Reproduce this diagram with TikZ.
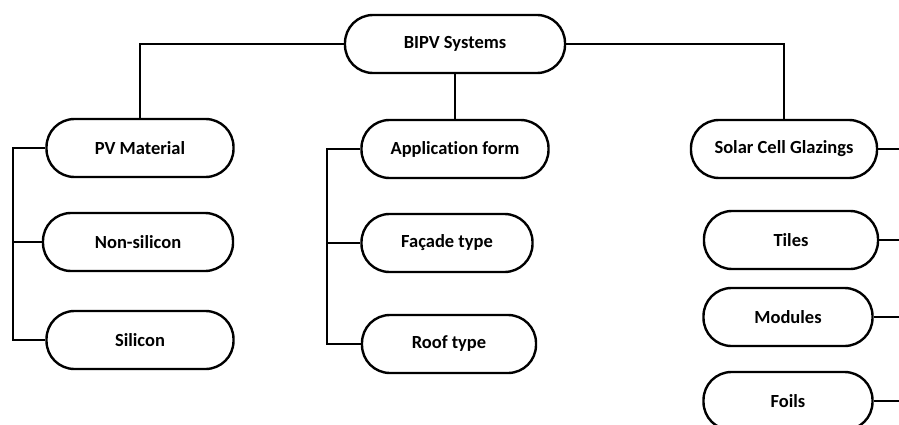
\documentclass[tikz,border=0pt]{standalone}
\usepackage{fontspec}
\setmainfont{Carlito}[Ligatures=NoCommon]
\begin{document}
\begin{tikzpicture}[x=1pt, y=-1pt, line width=1.4pt,
    block/.style={draw, line width=2.4pt, rounded corners=28pt, minimum height=58pt,
        inner sep=0pt, font=\fontsize{18.5}{22}\selectfont\bfseries}]
    \useasboundingbox (0,0) rectangle (899,425);
    % top level
    \node[block, minimum width=220pt] (bipv) at (455,44) {BIPV Systems};
    % second level
    \node[block, minimum width=187pt] (pv) at (140,148) {PV Material};
    \node[block, minimum width=187pt] (app) at (455,149) {Application form};
    \node[block, minimum width=186pt] (solar) at (784,149) {Solar Cell Glazings};
    % leaves
    \node[block, minimum width=190pt] (nonsi) at (138,242) {Non-silicon};
    \node[block, minimum width=187pt] (si) at (140,340) {Silicon};
    \node[block, minimum width=171pt] (facade) at (447,243) {Façade type};
    \node[block, minimum width=174pt] (roof) at (449,344) {Roof type};
    \node[block, minimum width=174pt] (tiles) at (791,240) {Tiles};
    \node[block, minimum width=169pt] (modules) at (788,317) {Modules};
    \node[block, minimum width=169pt] (foils) at (788,401) {Foils};
    % bus lines
    \coordinate (lbus) at (13,0);
    \coordinate (mbus) at (327,0);
    \coordinate (rbus) at (899,0);
    \draw (bipv.west) -| (pv.north);
    \draw (bipv.east) -| (solar.north);
    \draw (bipv.south) -- (app.north);
    \draw (pv.west) -- (pv.west -| lbus) |- (si.west);
    \draw (nonsi.west) -- (nonsi.west -| lbus);
    \draw (app.west) -- (app.west -| mbus) |- (roof.west);
    \draw (facade.west) -- (facade.west -| mbus);
    \draw (solar.east) -- (solar.east -| rbus);
    \draw (tiles.east) -- (tiles.east -| rbus);
    \draw (modules.east) -- (modules.east -| rbus);
    \draw (foils.east) -- (foils.east -| rbus);
\end{tikzpicture}
\end{document}
